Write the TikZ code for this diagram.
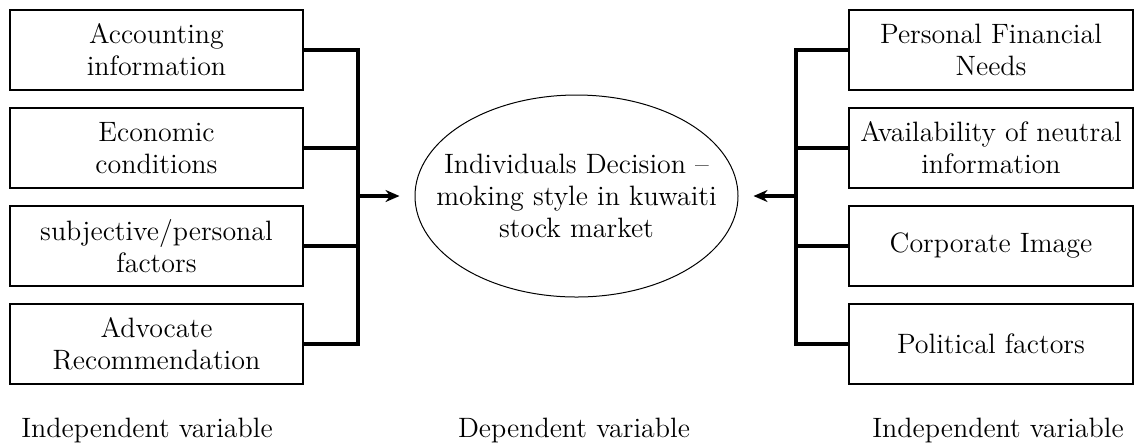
\documentclass[tikz,border=0pt]{standalone}
\usetikzlibrary{shapes.geometric,arrows.meta}
\begin{document}
\begin{tikzpicture}[x=0.5pt,y=-0.5pt,
  box/.style={draw,line width=0.8pt,minimum height=40pt,align=center,font=\fontsize{14}{16}\selectfont},
  lbox/.style={box,minimum width=146.5pt},
  rbox/.style={box,minimum width=142pt},
  link/.style={line width=1.6pt},
  lab/.style={font=\fontsize{14}{16}\selectfont}]
\useasboundingbox(0,0)rectangle(1134,447);
% left side
\foreach \n/\y/\t in {acc/50/{Accounting\\information},eco/148/{Economic\\conditions},sub/246/{subjective/personal\\factors},adv/344/{Advocate\\Recommendation}}{\node[lbox](\n)at(156.5,\y){\t};}
% right side
\foreach \n/\y/\t in {pfn/50/{Personal Financial\\Needs},avl/148/{Availability of neutral\\information},cor/246/{Corporate Image},pol/344/{Political factors}}{\node[rbox](\n)at(991,\y){\t};}
% centre
\node[ellipse,draw,line width=0.5pt,minimum width=161.5pt,minimum height=101pt,inner xsep=-14pt,inner ysep=0pt,align=center,font=\fontsize{14}{16}\selectfont](dec)at(576.5,196){Individuals Decision --\\moking style in kuwaiti\\stock market};
\coordinate(lj)at(358,196);
\coordinate(rj)at(796,196);
\foreach \n in {acc,eco,sub,adv}{\draw[link](\n.east)-|(lj);}
\foreach \n in {pfn,avl,cor,pol}{\draw[link](\n.west)-|(rj);}
\draw[link,-{Stealth[length=7pt,width=6pt]}](lj)--([xshift=-7.5pt]dec.west);
\draw[link,-{Stealth[length=7pt,width=6pt]}](rj)--([xshift=7.5pt]dec.east);
% bottom labels
\node[lab](li)at(147,430){Independent variable};
\node[lab](de)at(574,430){Dependent variable};
\node[lab](ri)at(998,430){Independent variable};
\end{tikzpicture}
\end{document}
